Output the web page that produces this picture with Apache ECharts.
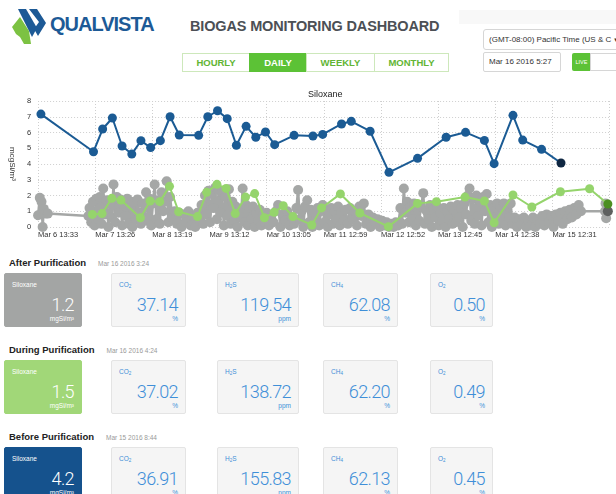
<!DOCTYPE html>
<html><head><meta charset="utf-8">
<script src="https://cdn.jsdelivr.net/npm/echarts@6/dist/echarts.min.js"></script>
<style>
body{margin:0;width:616px;height:494px;overflow:hidden;background:#fff;font-family:'Liberation Sans',Arial,sans-serif;position:relative}
.abs{position:absolute}
.btn{position:absolute;top:53px;height:19px;border:1px solid #cde8bb;box-sizing:border-box;color:#62b534;font-weight:bold;font-size:9.5px;line-height:18px;text-align:center;background:#fff}
.hdr{position:absolute;left:9px;font-size:9.5px;font-weight:bold;color:#222;white-space:nowrap}
.hdr span{font-weight:normal;color:#999;font-size:6.5px;margin-left:12px}
.card{position:absolute;height:54px;box-sizing:border-box;border:1px solid #e4e4e4;border-radius:2px;background:#f5f5f5;color:#3f8fd8}
.card .lb{position:absolute;left:7px;top:7px;font-size:6.5px}
.card .lb sub{font-size:4.5px;vertical-align:-1px}
.card .val{position:absolute;right:7px;top:20px;font-family:Roboto,'Liberation Sans',sans-serif;font-weight:300;font-size:18px;letter-spacing:-0.6px;line-height:21px}
.card .un{position:absolute;right:7px;top:41px;font-size:6.5px}
</style></head>
<body>
<svg class="abs" style="left:0;top:0" width="50" height="50">
<polygon points="18,9 26,9 37,28 32,37" fill="#1d5a96"/>
<polygon points="29,9 37,9 46,23 38,36 34,29 39,22" fill="#1d5a96"/>
<polygon points="12,27 20,17 29,31 31,44 24,44 20,37 16,34" fill="#7cc242"/>
</svg>
<div class="abs" style="left:50px;top:13px;font-size:20px;font-weight:bold;color:#1d5a96;letter-spacing:-1px">QUALVISTA</div>
<div class="abs" style="left:190px;top:18px;font-size:14.5px;font-weight:bold;color:#4c5055;white-space:nowrap;letter-spacing:-0.15px">BIOGAS MONITORING DASHBOARD</div>
<div class="btn" style="left:182px;width:68px">HOURLY</div>
<div class="btn" style="left:249px;width:58px;background:#5cc236;color:#fff;border-color:#5cc236">DAILY</div>
<div class="btn" style="left:306px;width:69px">WEEKLY</div>
<div class="btn" style="left:374px;width:75px">MONTHLY</div>
<div class="abs" style="left:459px;top:10px;width:157px;height:14px;background:#f8f8f8"></div>
<div class="abs" style="left:483px;top:29px;width:140px;height:21px;border:1px solid #d6d6d6;border-radius:3px;box-sizing:border-box;font-size:8px;color:#333;line-height:19px;padding-left:5px;white-space:nowrap;background:#fff">(GMT-08:00) Pacific Time (US &amp; C<span style="font-size:6px"> ▼</span></div>
<div class="abs" style="left:483px;top:52px;width:78px;height:20px;border:1px solid #d6d6d6;border-radius:2px;box-sizing:border-box;font-size:8px;color:#333;line-height:18px;padding-left:5px;white-space:nowrap">Mar 16 2016 5:27</div>
<div class="abs" style="left:572px;top:53px;width:19px;height:18px;background:#5cc236;border-radius:2px 0 0 2px;color:#fff;font-size:5.5px;line-height:18px;text-align:center">LIVE</div>
<div class="abs" style="left:590px;top:53px;width:30px;height:18px;border:1px solid #d6d6d6;box-sizing:border-box;background:#fff"></div>
<div id="chart" class="abs" style="left:0;top:80px;width:616px;height:165px"></div>
<div id="cards"></div>
<script>
// ---- chart data (x in tick units: 0 = "Mar 6 13:33", 1 tick = 23h53m) ----
const xTickLabels = ['Mar 6 13:33','Mar 7 13:26','Mar 8 13:19','Mar 9 13:12','Mar 10 13:05','Mar 11 12:59','Mar 12 12:52','Mar 13 12:45','Mar 14 12:38','Mar 15 12:31'];
const yTicks = [0,1,2,3,4,5,6,7,8];
const beforeData = [[0.05,7.17],[0.97,4.78],[1.13,6.22],[1.30,6.92],[1.47,5.14],[1.64,4.63],[1.80,5.48],[1.97,5.04],[2.14,5.48],[2.31,7.0],[2.47,5.84],[2.81,5.82],[2.97,7.0],[3.14,7.38],[3.31,6.88],[3.47,5.19],[3.64,6.39],[3.81,5.70],[3.98,6.03],[4.14,5.23],[4.48,5.82],[4.81,5.78],[4.98,5.88],[5.31,6.54],[5.48,6.71],[5.81,6.08],[6.14,3.47],[6.64,4.36],[7.14,5.70],[7.48,6.01],[7.81,5.50],[7.98,4.02],[8.31,7.09],[8.48,5.52],[8.81,4.93],[9.15,4.06]];
const duringData = [[0.95,0.80],[1.12,0.85],[1.29,1.82],[1.45,1.71],[1.79,0.59],[1.96,1.65],[2.13,1.61],[2.30,2.58],[2.46,0.97],[2.79,0.66],[2.95,2.20],[3.13,2.71],[3.29,2.45],[3.45,0.85],[3.63,1.90],[3.79,2.12],[3.96,0.59],[4.13,0.93],[4.29,1.35],[4.46,0.66],[4.79,0.13],[4.96,1.21],[5.29,2.10],[5.63,0.89],[6.13,0.02],[6.64,1.50],[6.97,1.61],[7.47,1.90],[7.81,1.65],[7.98,0.27],[8.31,2.03],[8.64,1.27],[9.14,2.24],[9.65,2.43],[9.97,1.46]];
const afterData = [[-0.03,0.45],[0.0,0.75],[0.03,1.85],[0.06,1.6],[0.08,0.0],[0.1,1.15],[0.13,0.85],[0.17,0.85],[0.88,0.7],
[0.90,1.2],[0.93,0.3],[0.96,1.6],[0.99,0.1],[1.02,1.8],[1.05,0.5],[1.08,1.9],[1.11,0.2],[1.14,2.45],[1.17,0.8],[1.2,1.7],[1.23,0.0],[1.26,1.5],[1.29,0.6],[1.32,2.7],[1.35,0.3],[1.38,1.9],
[1.41,0.9],[1.44,1.75],[1.47,0.1],[1.5,1.4],[1.53,0.7],[1.56,1.8],[1.59,0.2],[1.62,1.3],[1.65,0.0],[1.68,1.6],[1.71,0.5],[1.74,1.75],[1.77,0.9],[1.8,0.2],[1.83,1.5],[1.86,0.4],[1.89,2.2],
[1.92,0.6],[1.95,1.8],[1.98,0.1],[2.01,1.5],[2.04,2.7],[2.07,0.5],[2.1,1.7],[2.13,0.2],[2.16,2.2],[2.19,1.0],[2.22,1.6],[2.25,2.9],[2.28,0.3],[2.31,1.9],
[2.35,0.6],[2.39,1.0],[2.43,0.2],[2.47,0.9],[2.51,0.0],[2.55,0.8],[2.59,0.3],[2.63,1.0],[2.67,0.1],[2.71,0.7],[2.75,0.0],[2.79,0.9],[2.83,0.4],
[2.86,1.4],[2.89,0.2],[2.92,2.0],[2.95,0.8],[2.98,2.3],[3.01,0.3],[3.04,2.1],[3.07,1.2],[3.1,2.5],[3.13,0.5],[3.16,2.35],[3.19,0.9],[3.22,2.2],[3.25,0.1],[3.28,1.9],[3.31,0.7],[3.34,2.4],[3.37,0.2],
[3.40,1.6],[3.43,0.4],[3.46,1.3],[3.49,0.0],[3.52,1.1],[3.55,0.6],[3.58,2.45],[3.61,0.3],[3.64,1.4],[3.67,0.1],[3.7,1.2],[3.73,0.5],[3.76,1.3],[3.79,0.0],[3.82,0.9],[3.85,0.4],[3.88,1.1],[3.91,0.1],[3.94,0.8],[3.97,0.3],
[4.0,0.9],[4.04,0.1],[4.08,0.7],[4.12,0.3],[4.16,1.0],[4.2,1.4],[4.24,0.0],[4.28,0.8],[4.32,0.4],[4.36,1.0],[4.4,0.1],[4.44,0.6],[4.48,0.2],
[4.52,1.2],[4.55,2.35],[4.58,0.5],[4.61,1.0],[4.64,0.0],[4.67,1.3],[4.71,1.7],
[4.74,0.3],[4.77,1.1],[4.8,0.0],[4.83,0.9],[4.86,0.4],[4.89,1.2],[4.92,0.1],[4.95,1.0],[4.98,1.4],[5.01,0.3],[5.04,1.1],[5.07,0.0],[5.1,0.8],[5.13,1.2],[5.16,0.2],[5.19,1.0],[5.22,0.5],[5.25,1.3],[5.28,0.1],[5.31,0.9],[5.34,0.4],
[5.38,1.1],[5.42,0.2],[5.46,1.2],[5.5,0.5],[5.54,1.0],[5.58,0.1],[5.62,1.3],[5.66,0.7],[5.7,1.5],[5.74,0.2],[5.78,0.8],[5.82,0.0],[5.86,0.6],[5.9,0.3],[5.94,0.5],[5.98,0.0],[6.02,0.4],
[6.06,0.1],[6.1,0.3],[6.14,0.0],[6.18,0.2],[6.22,0.0],[6.26,0.3],[6.3,0.1],
[6.34,1.2],[6.37,0.2],[6.4,2.45],[6.43,0.9],[6.46,1.6],[6.49,0.3],[6.52,1.3],[6.55,0.5],[6.58,1.5],[6.61,0.1],
[6.64,1.1],[6.67,0.4],[6.7,1.3],[6.74,2.15],[6.77,0.2],[6.8,1.0],[6.83,0.5],[6.86,1.4],[6.89,0.0],[6.92,1.1],[6.95,0.6],[6.98,1.3],[7.01,0.1],[7.04,0.9],[7.07,0.4],[7.1,1.2],[7.13,0.0],[7.16,1.0],[7.19,0.5],[7.22,1.3],[7.25,0.2],
[7.28,1.1],[7.31,0.3],[7.34,1.4],[7.37,0.6],[7.4,1.2],[7.43,0.0],[7.46,1.5],[7.49,0.8],[7.52,2.0],[7.55,2.45],[7.58,0.4],
[7.61,1.8],[7.64,0.2],[7.67,2.0],[7.7,0.7],[7.73,1.6],[7.76,0.1],[7.79,1.9],[7.82,1.0],[7.85,2.1],[7.88,0.3],[7.91,1.4],[7.94,0.0],[7.97,1.2],[8.0,0.5],[8.03,1.5],[8.06,0.2],[8.09,1.3],
[8.12,0.4],[8.15,1.5],[8.18,0.1],[8.21,1.3],[8.24,0.6],[8.27,1.5],[8.3,0.2],
[8.34,0.6],[8.38,0.0],[8.42,0.5],[8.46,0.2],[8.5,0.6],[8.54,0.0],[8.58,0.4],[8.62,0.1],[8.66,0.6],[8.7,0.0],[8.74,0.5],[8.78,0.2],
[8.82,0.7],[8.86,0.1],[8.9,0.8],[8.94,0.3],[8.98,0.7],[9.02,0.0],[9.06,0.8],[9.1,0.4],
[9.14,0.9],[9.18,0.2],[9.22,1.0],[9.26,0.5],[9.3,1.1],[9.34,0.6],[9.38,1.2],[9.42,0.8],[9.46,1.4],[9.5,1.0],
[9.92,1.0],[9.93,1.5],[9.94,0.55],[9.97,1.0]];

// ---- panel data ----
const sectionNames = ['After Purification','During Purification','Before Purification'];
const sectionDates = ['Mar 16 2016 3:24','Mar 16 2016 4:24','Mar 15 2016 8:44'];
const siloxaneValues = ['1.2','1.5','4.2'];
const co2Values = ['37.14','37.02','36.91'];
const h2sValues = ['119.54','138.72','155.83'];
const ch4Values = ['62.08','62.20','62.13'];
const o2Values = ['0.50','0.49','0.45'];

const colors = {after:'#a5a7a6', afterLast:'#5e605f', during:'#95d46c', duringLast:'#4c8f22', before:'#1b5b94', beforeLast:'#0f2742'};

function withLast(arr, lastColor){
  return arr.map((p,i)=> i===arr.length-1 ? {value:p, itemStyle:{color:lastColor}} : p);
}

const chart = echarts.init(document.getElementById('chart'), null, {renderer:'canvas'});
chart.setOption({
  animation:false,
  title:{text:'Siloxane', left:303, top:5, textStyle:{fontSize:9, fontWeight:'normal', color:'#222', fontFamily:'Liberation Sans'}},
  grid:{left:29, right:7, top:21, bottom:18},
  xAxis:{type:'value', min:0, max:9.99, interval:1,
    axisLine:{show:false}, axisTick:{show:false},
    axisLabel:{fontSize:7.5, color:'#333', margin:4, align:'left', showMaxLabel:false, fontFamily:'Liberation Sans',
      formatter:(v)=> xTickLabels[Math.round(v)] || ''},
    splitLine:{show:true, lineStyle:{type:[1,2], color:'#cfcfcf', width:1}}},
  yAxis:{type:'value', min:yTicks[0], max:yTicks[yTicks.length-1], interval:1,
    name:'mcgSi/m³', nameLocation:'middle', nameGap:22, nameRotate:-90,
    nameTextStyle:{fontSize:8, color:'#333', fontFamily:'Liberation Sans'},
    axisLine:{show:false}, axisTick:{show:false},
    axisLabel:{fontSize:7.5, color:'#333', margin:7, fontFamily:'Liberation Sans'},
    splitLine:{show:true, lineStyle:{type:[1,2], color:'#cfcfcf', width:1}}},
  series:[
    {name:'After Purification', type:'line', data:withLast(afterData, colors.afterLast), symbol:'circle', symbolSize:10,
     itemStyle:{color:colors.after, borderWidth:0}, lineStyle:{color:colors.after, width:2.5}, z:2},
    {name:'During Purification', type:'line', data:withLast(duringData, colors.duringLast), symbol:'circle', symbolSize:9,
     itemStyle:{color:colors.during, borderWidth:0}, lineStyle:{color:colors.during, width:2}, z:3},
    {name:'Before Purification', type:'line', data:withLast(beforeData, colors.beforeLast), symbol:'circle', symbolSize:9,
     itemStyle:{color:colors.before, borderWidth:0}, lineStyle:{color:colors.before, width:2}, z:4}
  ]
});

// ---- panels ----
const rowTops = [273, 360, 447];
const siloxaneColors = ['#a3a5a4', '#a1d778', '#15528d'];
const cardDefs = [
  {left:111, width:75, label:'CO<sub>2</sub>', vals:co2Values, unit:'%'},
  {left:217, width:82, label:'H<sub>2</sub>S', vals:h2sValues, unit:'ppm'},
  {left:323, width:75, label:'CH<sub>4</sub>', vals:ch4Values, unit:'%'},
  {left:430, width:63, label:'O<sub>2</sub>', vals:o2Values, unit:'%'}
];
let html = '';
sectionNames.forEach((name, r) => {
  const top = rowTops[r];
  html += `<div class="hdr" style="top:${top-16}px">${name}<span>${sectionDates[r]}</span></div>`;
  html += `<div class="card" style="left:4px;top:${top}px;width:78px;background:${siloxaneColors[r]};border-color:${siloxaneColors[r]};color:#fff">
    <div class="lb">Siloxane</div><div class="val">${siloxaneValues[r]}</div><div class="un">mgSi/m³</div></div>`;
  cardDefs.forEach(c => {
    html += `<div class="card" style="left:${c.left}px;top:${top}px;width:${c.width}px">
      <div class="lb">${c.label}</div><div class="val">${c.vals[r]}</div><div class="un">${c.unit}</div></div>`;
  });
});
document.getElementById('cards').innerHTML = html;
</script>
</body></html>
